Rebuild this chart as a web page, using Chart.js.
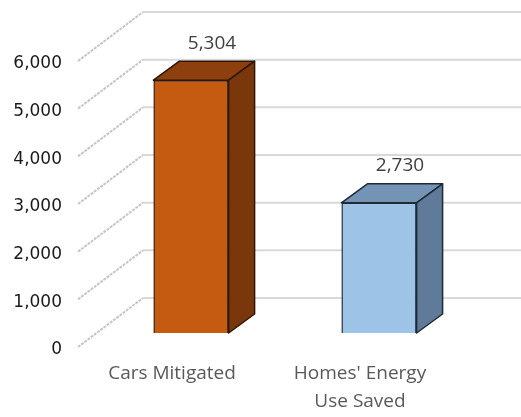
<!DOCTYPE html>
<html>
<head>
<meta charset="utf-8">
<script src="https://cdn.jsdelivr.net/npm/chart.js@4/dist/chart.umd.min.js"></script>
<style>
  html, body { margin: 0; padding: 0; background: #fff; }
  #wrap { width: 521px; height: 417px; }
</style>
</head>
<body>
<div id="wrap"><canvas id="chart" width="521" height="417"></canvas></div>
<script>
const categories = ['Cars Mitigated', ["Homes' Energy", 'Use Saved']];
const values = [5304, 2730];
const yTicks = [0, 1000, 2000, 3000, 4000, 5000, 6000];

const frontColors = ['#C55A11', '#9DC3E6'];
const topColors = ['#8D400E', '#7494B6'];
const sideColors = ['#7A370B', '#607B99'];
const edgeColors = ['#2E1606', '#1F2A36'];

// depth of a bar, and the offsets of the floor edge / back wall from the bar plane
const DEPTH = { dx: 26, dy: -19 };
const FRONT = { dx: -19, dy: 14 };
const BACK = { dx: 46, dy: -35 };

const fmt = v => v.toLocaleString('en-US');

const threeD = {
  id: 'threeD',
  beforeDatasetsDraw(chart) {
    const { ctx, chartArea, scales: { y } } = chart;
    ctx.save();
    yTicks.forEach(v => {
      const py = y.getPixelForValue(v);
      const x0 = chartArea.left + FRONT.dx, y0 = py + FRONT.dy;
      const x1 = chartArea.left + BACK.dx, y1 = py + BACK.dy;
      // floor / side wall diagonal
      ctx.strokeStyle = '#c6c6c6';
      ctx.lineWidth = 2;
      ctx.setLineDash([3, 1]);
      ctx.beginPath();
      ctx.moveTo(x0, y0);
      ctx.lineTo(x1, y1);
      ctx.stroke();
      // back wall gridline
      ctx.setLineDash([]);
      ctx.strokeStyle = '#d9d9d9';
      ctx.beginPath();
      ctx.moveTo(x1, y1);
      ctx.lineTo(chart.width, y1);
      ctx.stroke();
    });
    ctx.restore();
  },
  afterDatasetsDraw(chart) {
    const { ctx } = chart;
    const meta = chart.getDatasetMeta(0);
    ctx.save();
    ctx.lineJoin = 'round';
    meta.data.forEach((bar, i) => {
      const l = bar.x - bar.width / 2, r = bar.x + bar.width / 2;
      const t = bar.y, b = bar.base;
      ctx.strokeStyle = edgeColors[i];
      ctx.lineWidth = 1.5;
      // top face
      ctx.fillStyle = topColors[i];
      ctx.beginPath();
      ctx.moveTo(l, t);
      ctx.lineTo(l + DEPTH.dx, t + DEPTH.dy);
      ctx.lineTo(r + DEPTH.dx, t + DEPTH.dy);
      ctx.lineTo(r, t);
      ctx.closePath();
      ctx.fill();
      ctx.stroke();
      // side face
      ctx.fillStyle = sideColors[i];
      ctx.beginPath();
      ctx.moveTo(r, t);
      ctx.lineTo(r + DEPTH.dx, t + DEPTH.dy);
      ctx.lineTo(r + DEPTH.dx, b + DEPTH.dy);
      ctx.lineTo(r, b);
      ctx.closePath();
      ctx.fill();
      ctx.stroke();
      // value label
      ctx.fillStyle = '#404040';
      ctx.font = '19px "Open Sans"';
      ctx.textAlign = 'center';
      ctx.textBaseline = 'middle';
      ctx.fillText(fmt(values[i]), bar.x + 21, t - 37);
    });
    ctx.restore();
  }
};

new Chart(document.getElementById('chart'), {
  type: 'bar',
  data: {
    labels: categories,
    datasets: [{
      data: values,
      backgroundColor: frontColors,
      borderColor: edgeColors,
      borderWidth: 1.5,
      categoryPercentage: 1,
      barPercentage: 0.4
    }]
  },
  options: {
    responsive: false,
    animation: false,
    events: [],
    layout: { padding: { top: 47, right: 48, left: 0, bottom: 0 } },
    plugins: { legend: { display: false }, tooltip: { enabled: false } },
    scales: {
      x: {
        grid: { display: false, drawTicks: false },
        border: { display: false },
        ticks: {
          color: '#595959',
          font: { family: '"Open Sans"', size: 19, lineHeight: 1.5 },
          padding: 26,
          labelOffset: -19,
          maxRotation: 0
        },
        afterFit: s => { s.height = 84; }
      },
      y: {
        min: 0,
        max: 6000,
        grid: { display: false, drawTicks: false },
        border: { display: false },
        afterBuildTicks: s => { s.ticks = yTicks.map(v => ({ value: v })); },
        afterFit: s => { s.width = 97; },
        ticks: {
          color: '#1a1a1a',
          font: { family: '"DejaVu Sans"', size: 17 },
          padding: 35,
          labelOffset: 17,
          callback: v => fmt(v)
        }
      }
    }
  },
  plugins: [threeD]
});
</script>
</body>
</html>
